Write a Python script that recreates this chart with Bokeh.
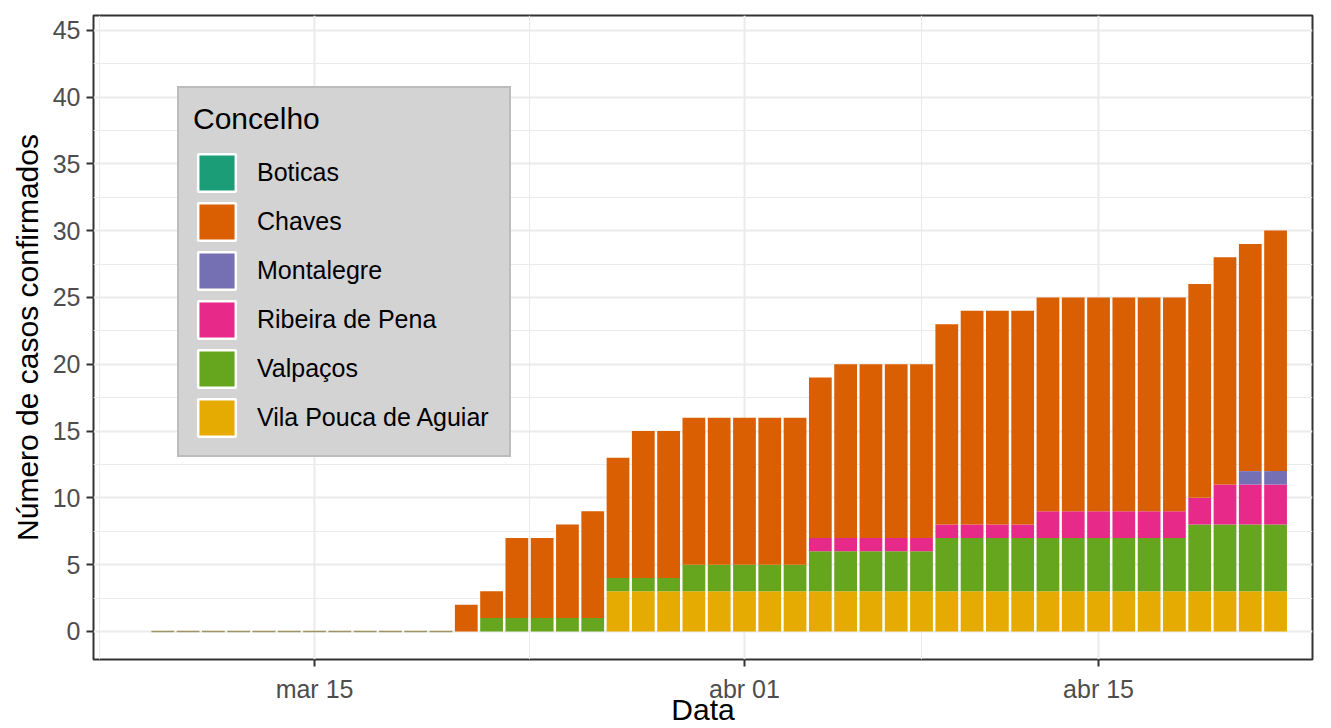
import pandas as pd
from bokeh.plotting import figure
from bokeh.models import ColumnDataSource, FixedTicker, Legend, LegendItem, Range1d
from bokeh.embed import file_html
from bokeh.resources import INLINE

FONT = "Liberation Sans"

# ---------------- data ----------------
dates = pd.date_range("2020-03-09", "2020-04-22", freq="D")
concelhos = ["Boticas", "Chaves", "Montalegre", "Ribeira de Pena", "Valpaços", "Vila Pouca de Aguiar"]
colors = ["#1B9E77", "#D95F02", "#7570B3", "#E7298A", "#66A61E", "#E6AB02"]

#               mar 9 ............................... mar 20 | 21 22 23 24 25 26 27 28 29 30 31 | abr 1 2 3 4 5 6 7 8 9 10 11 12 13 14 15 16 17 18 19 20 21 22
boticas      = [0, 0, 0, 0, 0, 0, 0, 0, 0, 0, 0, 0,  0, 0, 0, 0, 0, 0, 0, 0, 0, 0, 0,  0, 0, 0, 0, 0, 0, 0, 0, 0, 0, 0, 0, 0, 0, 0, 0, 0, 0, 0, 0, 0, 0]
chaves       = [0, 0, 0, 0, 0, 0, 0, 0, 0, 0, 0, 0,  2, 2, 6, 6, 7, 8, 9, 11, 11, 11, 11,  11, 11, 11, 12, 13, 13, 13, 13, 15, 16, 16, 16, 16, 16, 16, 16, 16, 16, 16, 17, 17, 18]
montalegre   = [0, 0, 0, 0, 0, 0, 0, 0, 0, 0, 0, 0,  0, 0, 0, 0, 0, 0, 0, 0, 0, 0, 0,  0, 0, 0, 0, 0, 0, 0, 0, 0, 0, 0, 0, 0, 0, 0, 0, 0, 0, 0, 0, 1, 1]
ribeira      = [0, 0, 0, 0, 0, 0, 0, 0, 0, 0, 0, 0,  0, 0, 0, 0, 0, 0, 0, 0, 0, 0, 0,  0, 0, 0, 1, 1, 1, 1, 1, 1, 1, 1, 1, 2, 2, 2, 2, 2, 2, 2, 3, 3, 3]
valpacos     = [0, 0, 0, 0, 0, 0, 0, 0, 0, 0, 0, 0,  0, 1, 1, 1, 1, 1, 1, 1, 1, 2, 2,  2, 2, 2, 3, 3, 3, 3, 3, 4, 4, 4, 4, 4, 4, 4, 4, 4, 4, 5, 5, 5, 5]
vila_pouca   = [0, 0, 0, 0, 0, 0, 0, 0, 0, 0, 0, 0,  0, 0, 0, 0, 0, 0, 3, 3, 3, 3, 3,  3, 3, 3, 3, 3, 3, 3, 3, 3, 3, 3, 3, 3, 3, 3, 3, 3, 3, 3, 3, 3, 3]

tick_dates = ["2020-03-15", "2020-04-01", "2020-04-15"]
tick_labels = ["mar 15", "abr 01", "abr 15"]
y_ticks = [0, 5, 10, 15, 20, 25, 30, 35, 40, 45]

# ---------------- derived ----------------
origin = pd.Timestamp(tick_dates[0])
xs = [(d - origin).days for d in dates]
xt = [(pd.Timestamp(t) - origin).days for t in tick_dates]
step = xt[1] - xt[0]
ext = [xt[0] - step] + xt + [xt[-1] + step]
x_minor = [(a + b) / 2 for a, b in zip(ext[:-1], ext[1:])]
y_minor = [t + 2.5 for t in [-5] + y_ticks]

series = {
    "Boticas": boticas, "Chaves": chaves, "Montalegre": montalegre,
    "Ribeira de Pena": ribeira, "Valpaços": valpacos, "Vila Pouca de Aguiar": vila_pouca,
}
src = ColumnDataSource(dict(x=xs, **series))
totals = [sum(v) for v in zip(*series.values())]
zx = [x for x, t in zip(xs, totals) if t == 0]

# ---------------- figure ----------------
W, H = 1331, 728
FL, FR, FT, FB = 93, 1312, 15, 659   # frame edges in page pixels
p = figure(width=W, height=H, output_backend="svg", toolbar_location=None,
           x_range=Range1d(-8.74, 39.46), y_range=Range1d(-2.1, 46.1),
           min_border_left=FL, min_border_right=W - FR, min_border_top=FT, min_border_bottom=H - FB)
p.background_fill_color = "white"
p.border_fill_color = "white"
p.outline_line_color = "#333333"
p.outline_line_width = 2

# grid
p.xgrid.ticker = FixedTicker(ticks=xt, minor_ticks=x_minor)
p.ygrid.ticker = FixedTicker(ticks=y_ticks, minor_ticks=y_minor)
for g in (p.xgrid, p.ygrid):
    g.grid_line_color = "#ebebeb"
    g.grid_line_width = 2
    g.minor_grid_line_color = "#ebebeb"
    g.minor_grid_line_width = 1

# axes
p.xaxis.ticker = FixedTicker(ticks=xt)
p.xaxis.major_label_overrides = {x: l for x, l in zip(xt, tick_labels)}
p.yaxis.ticker = FixedTicker(ticks=y_ticks)
for ax in (p.xaxis, p.yaxis):
    ax.axis_line_color = None
    ax.major_tick_line_color = "#333333"
    ax.major_tick_line_width = 2
    ax.major_tick_out = 7
    ax.major_tick_in = 0
    ax.minor_tick_line_color = None
    ax.major_label_text_font = FONT
    ax.major_label_text_font_size = "25px"
    ax.major_label_text_color = "#4d4d4d"
    ax.axis_label_text_font = FONT
    ax.axis_label_text_font_size = "30px"
    ax.axis_label_text_font_style = "normal"
    ax.axis_label_text_color = "black"
p.xaxis.major_label_standoff = 8
p.yaxis.major_label_standoff = 6
p.yaxis.axis_label = "Número de casos confirmados"
p.yaxis.axis_label_standoff = 6
p.xaxis.axis_label = "Data"
p.xaxis.axis_label_standoff = -13

# stacked bars (bottom to top)
order = ["Vila Pouca de Aguiar", "Valpaços", "Ribeira de Pena", "Montalegre", "Chaves", "Boticas"]
cmap = dict(zip(concelhos, colors))
p.vbar_stack(order, x="x", width=0.9, source=src,
             fill_color=[cmap[k] for k in order], line_color=None)

# zero-height bars (overlapping empty bars appear as a thin line)
p.segment(x0=[x - 0.45 for x in zx], x1=[x + 0.45 for x in zx],
          y0=[0] * len(zx), y1=[0] * len(zx), line_color="#a09464", line_width=1.5)

# legend keys: hidden renderers styled like ggplot keys (white outline)
items = []
for name, c in zip(concelhos, colors):
    r = p.vbar(x="x", top=name, width=0.9, source=src, fill_color=c,
               line_color="white", line_width=2.5, visible=False)
    items.append(LegendItem(label=name, renderers=[r]))
legend = Legend(items=items, location=(84, 202), title="Concelho")
legend.title_text_font = FONT
legend.title_text_font_size = "30px"
legend.title_text_font_style = "normal"
legend.title_text_color = "black"
legend.title_standoff = 13
legend.label_text_font = FONT
legend.label_text_font_size = "25px"
legend.label_text_color = "black"
legend.label_standoff = 17
legend.label_width = 238
legend.glyph_width = 47
legend.glyph_height = 47
legend.spacing = 2
legend.padding = 14
legend.margin = 0
legend.background_fill_color = "#d3d3d3"
legend.background_fill_alpha = 1
legend.border_line_color = "#a6a6a6"
legend.border_line_width = 2.5
p.add_layout(legend)

open("out.html", "w").write(file_html(p, INLINE))
